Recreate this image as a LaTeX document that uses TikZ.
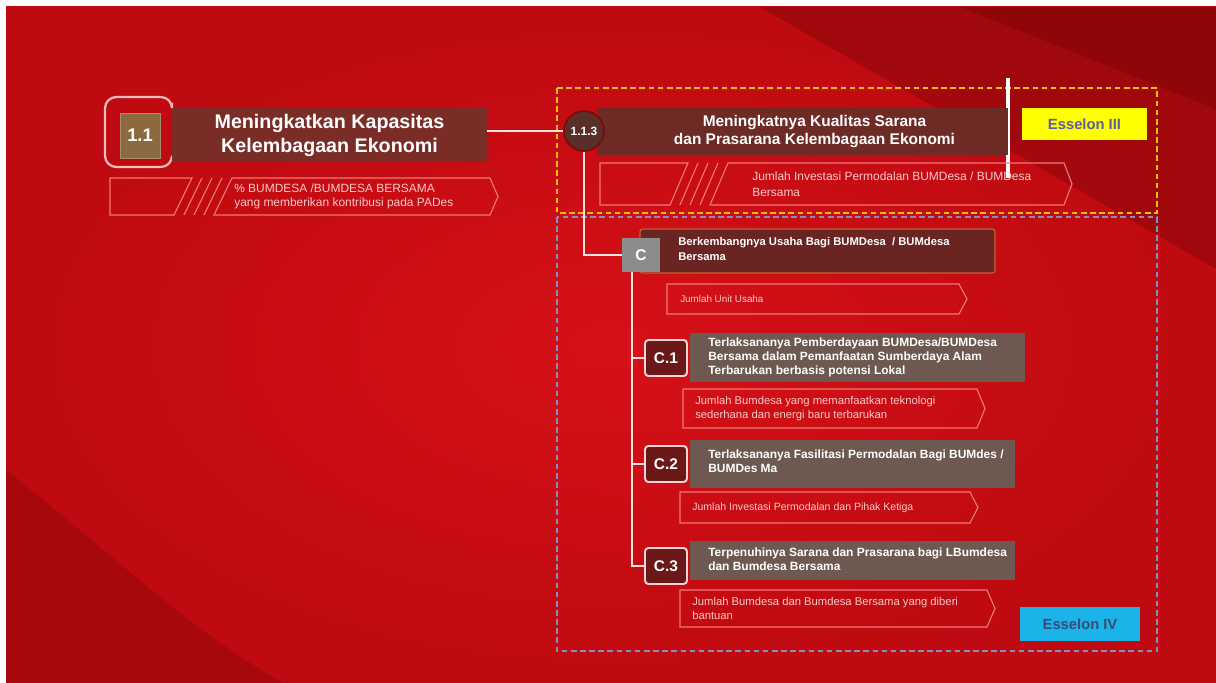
\documentclass[tikz,border=0pt]{standalone}
\usepackage{fontspec}
\setmainfont{Liberation Sans}
%
\tikzset{
  link/.style={draw=col_link, line width=1.6pt},
  bracket/.style={draw=col_bracket, line width=1.6pt, rounded corners=8pt},
  indline/.style={draw=col_ind, line width=0.8pt},
  indtext/.style={anchor=west, align=left, inner sep=0pt, text=col_indtext, font=\fontsize{8}{9.5}\selectfont},
  framey/.style={draw=col_framey, line width=1.5pt, dash pattern=on 4pt off 2.5pt},
  frameb/.style={draw=col_frameb, line width=1.5pt, dash pattern=on 4pt off 2.5pt},
  titlebox/.style={rectangle, inner sep=0pt, text=white, align=center},
  titletext/.style={anchor=west, align=left, inner sep=0pt, text=white},
  numbox/.style={rectangle, rounded corners=2.5pt, draw=col_numline, line width=1.4pt, fill=col_num, text=white, inner sep=0pt, font=\fontsize{11}{12}\selectfont\bfseries},
  esbox/.style={rectangle, inner sep=0pt, font=\fontsize{10.5}{12}\selectfont\bfseries}
}
%
\begin{document}
\begin{tikzpicture}[x=0.025cm, y=-0.025cm]
%
\definecolor{col_bg}{HTML}{BE0A10}
\definecolor{col_bglight}{HTML}{D61018}
\definecolor{col_bgdark}{HTML}{7E0606}
%
\definecolor{col_link}{HTML}{F7E2E2}
\definecolor{col_bracket}{HTML}{F2BABA}
\definecolor{col_ind}{HTML}{F07878}
\definecolor{col_indtext}{HTML}{F6CACA}
\definecolor{col_framey}{HTML}{F2C20A}
\definecolor{col_frameb}{HTML}{8090C0}
%
\definecolor{col_t11}{HTML}{7A2C27}
\definecolor{col_sq11}{HTML}{8A6A3E}
\definecolor{col_circ}{HTML}{5A2F27}
\definecolor{col_t113}{HTML}{6E2A25}
\definecolor{col_tc}{HTML}{6A2522}
\definecolor{col_tcline}{HTML}{C8602E}
\definecolor{col_cbox}{HTML}{8C8C8C}
\definecolor{col_sub}{HTML}{6D5950}
\definecolor{col_num}{HTML}{6A1818}
\definecolor{col_numline}{HTML}{F2D2D2}
%
\definecolor{col_es3}{HTML}{FFFF00}
\definecolor{col_es3text}{HTML}{5B5EA6}
\definecolor{col_es4}{HTML}{1CB4E8}
\definecolor{col_es4text}{HTML}{3A4A7A}
%
\useasboundingbox (0,0) rectangle (1216,683);
\fill[white] (0,0) rectangle (1216,683);
\shade[inner color=col_bglight, outer color=col_bg] (6,7) rectangle (1218,686);
\fill[col_bgdark, opacity=0.45] (760,7) -- (1218,7) -- (1218,270) -- cycle;
\fill[col_bgdark, opacity=0.5] (960,7) -- (1218,7) -- (1218,110) -- cycle;
\fill[col_bgdark, opacity=0.35] (6,470) .. controls (120,560) and (200,640) .. (290,686) -- (6,686) -- cycle;
%
%
\draw[framey] (557,88) rectangle (1157,213);
\draw[frameb] (557,217) rectangle (1157,651);
%
%
\draw[bracket] (172,103) -- (172,97) -- (105,97) -- (105,167) -- (172,167) -- (172,161);
\node[titlebox, fill=col_t11, minimum width=7.875cm, minimum height=1.35cm,
  font=\fontsize{14}{17}\selectfont\bfseries] (t11) at (329.5,135) {Meningkatkan Kapasitas\\Kelembagaan Ekonomi};
\node[titlebox, fill=col_sq11, draw=col_sq11!75!white, line width=0.6pt, minimum width=1.0cm, minimum height=1.125cm,
  font=\fontsize{13}{15}\selectfont\bfseries] (n11) at (140,135.5) {1.1};
%
\draw[indline] (110,178) -- (192,178) -- (174,215) -- (110,215) -- cycle;
\draw[indline] (202,178) -- (184,215);
\draw[indline] (212,178) -- (194,215);
\draw[indline] (222,178) -- (204,215);
\draw[indline] (232,178) -- (490,178) -- (498,196.5) -- (490,215) -- (214,215) -- cycle;
\node[indtext, font=\fontsize{8.5}{9.5}\selectfont] (i11) at (234,196.5) {\% BUMDESA /BUMDESA BERSAMA\\yang memberikan kontribusi pada PADes};
%
%
\draw[white, line width=2.2pt] (1008,78) -- (1008,178);
\node[titlebox, fill=col_t113, minimum width=10.275cm, minimum height=1.175cm,
  font=\fontsize{11}{12.5}\selectfont\bfseries] (t113) at (802.5,131.5) {\hspace*{0.6cm}Meningkatnya Kualitas Sarana\\\hspace*{0.6cm}dan Prasarana Kelembagaan Ekonomi};
\node[circle, draw=col_bgdark, line width=1pt, fill=col_circ, text=white, inner sep=0pt, minimum size=1.0cm,
  font=\fontsize{8.5}{10}\selectfont\bfseries] (c113) at (584,131) {1.1.3};
\node[esbox, fill=col_es3, text=col_es3text, minimum width=3.125cm, minimum height=0.8cm] (e3) at (1084.5,124) {Esselon III};
%
\draw[indline] (600,163) -- (688,163) -- (670,205) -- (600,205) -- cycle;
\draw[indline] (698,163) -- (680,205);
\draw[indline] (708,163) -- (690,205);
\draw[indline] (718,163) -- (700,205);
\draw[indline] (728,163) -- (1064,163) -- (1072,184) -- (1064,205) -- (710,205) -- cycle;
\node[indtext, font=\fontsize{8.5}{11.5}\selectfont] (i113) at (752,184) {Jumlah Investasi Permodalan BUMDesa / BUMDesa\\Bersama};
%
\draw[link] (t11.east |- c113.west) -- (c113.west);
%
%
\node[rectangle, rounded corners=2pt, draw=col_tcline, line width=0.8pt, fill=col_tc, minimum width=8.875cm, minimum height=1.1cm] (tc) at (817.5,251) {};
\node[titletext, font=\fontsize{8}{10.5}\selectfont\bfseries] (tct) at (678,249) {Berkembangnya Usaha Bagi BUMDesa \ / BUMdesa\\Bersama};
\node[titlebox, fill=col_cbox, minimum width=0.95cm, minimum height=0.85cm,
  font=\fontsize{11}{12}\selectfont\bfseries] (bc) at (641,255) {C};
\draw[link] (c113.south) |- (bc.west);
%
\draw[indline] (667,284) -- (959,284) -- (967,299) -- (959,314) -- (667,314) -- cycle;
\node[indtext, font=\fontsize{7}{9}\selectfont] (ic) at (680,299) {Jumlah Unit Usaha};
%
\node[titlebox, fill=col_sub, minimum width=8.375cm, minimum height=1.225cm] (tc1) at (857.5,357.5) {};
\node[titletext, font=\fontsize{8.5}{10}\selectfont\bfseries] (tc1t) at (708,357) {Terlaksananya Pemberdayaan BUMDesa/BUMDesa\\Bersama dalam Pemanfaatan Sumberdaya Alam\\Terbarukan berbasis potensi Lokal};
\node[numbox, minimum width=1.05cm, minimum height=0.9cm] (bc1) at (666,358) {C.1};
\draw[indline] (683,389) -- (977,389) -- (985,408.5) -- (977,428) -- (683,428) -- cycle;
\node[indtext] (ic1) at (695,408.5) {Jumlah Bumdesa yang memanfaatkan teknologi\\sederhana dan energi baru terbarukan};
%
\node[titlebox, fill=col_sub, minimum width=8.125cm, minimum height=1.2cm] (tc2) at (852.5,464) {};
\node[titletext, font=\fontsize{8.5}{10}\selectfont\bfseries] (tc2t) at (708,461) {Terlaksananya Fasilitasi Permodalan Bagi BUMdes /\\BUMDes Ma};
\node[numbox, minimum width=1.05cm, minimum height=0.9cm] (bc2) at (666,464) {C.2};
\draw[indline] (680,492) -- (970,492) -- (978,507.5) -- (970,523) -- (680,523) -- cycle;
\node[indtext, font=\fontsize{7.5}{9}\selectfont] (ic2) at (692,507.5) {Jumlah Investasi Permodalan dan Pihak Ketiga};
%
\node[titlebox, fill=col_sub, minimum width=8.125cm, minimum height=0.975cm] (tc3) at (852.5,560.5) {};
\node[titletext, font=\fontsize{8.5}{10}\selectfont\bfseries] (tc3t) at (708,559) {Terpenuhinya Sarana dan Prasarana bagi LBumdesa\\dan Bumdesa Bersama};
\node[numbox, minimum width=1.05cm, minimum height=0.9cm] (bc3) at (666,566) {C.3};
\draw[indline] (680,590) -- (987,590) -- (995,608.5) -- (987,627) -- (680,627) -- cycle;
\node[indtext] (ic3) at (692,608.5) {Jumlah Bumdesa dan Bumdesa Bersama yang diberi\\bantuan};
%
\coordinate (sp) at ([xshift=-0.225cm]bc.south);
\draw[link] (sp) |- (bc1.west);
\draw[link] (sp) |- (bc2.west);
\draw[link] (sp) |- (bc3.west);
%
\node[esbox, fill=col_es4, text=col_es4text, minimum width=3.0cm, minimum height=0.85cm] (e4) at (1080,624) {Esselon IV};
%
%
\end{tikzpicture}
\end{document}
